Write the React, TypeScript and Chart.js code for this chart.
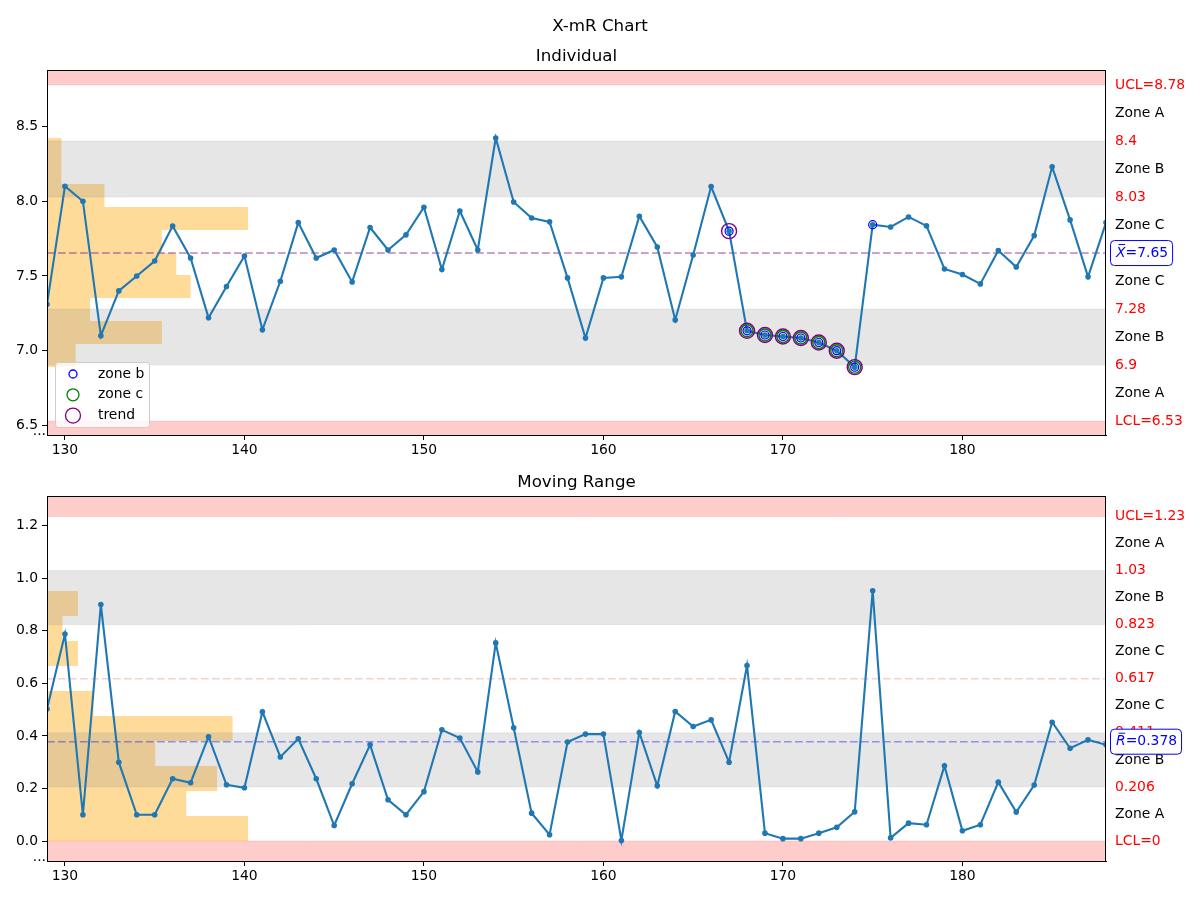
import React, { useEffect, useRef } from "react";
import { Chart, registerables } from "chart.js";

Chart.register(...registerables);

// ---------- data ----------
const X_START = 129;
const xTicks = [130, 140, 150, 160, 170, 180];

const individualValues = [
  7.31, 8.1, 8.0, 7.1, 7.4, 7.5, 7.6, 7.834, 7.62, 7.22,
  7.43, 7.634, 7.14, 7.465, 7.857, 7.62, 7.674, 7.46, 7.824, 7.674,
  7.775, 7.96, 7.543, 7.935, 7.674, 8.423, 7.995, 7.888, 7.862, 7.487,
  7.085, 7.487, 7.494, 7.9, 7.694, 7.206, 7.64, 8.098, 7.8, 7.133,
  7.105, 7.095, 7.085, 7.055, 7.0, 6.89, 7.843, 7.828, 7.895, 7.835,
  7.547, 7.51, 7.447, 7.67, 7.56, 7.77, 8.23, 7.875, 7.494, 7.857,
];

const movingRangeValues = [
  0.502, 0.788, 0.1, 0.9, 0.3, 0.1, 0.1, 0.237, 0.222, 0.397,
  0.214, 0.203, 0.492, 0.32, 0.389, 0.237, 0.059, 0.218, 0.366, 0.157,
  0.1, 0.188, 0.423, 0.392, 0.263, 0.754, 0.431, 0.106, 0.024, 0.377,
  0.407, 0.407, 0.002, 0.413, 0.21, 0.493, 0.436, 0.461, 0.3, 0.668,
  0.03, 0.009, 0.009, 0.03, 0.052, 0.111, 0.952, 0.012, 0.068, 0.062,
  0.286, 0.039, 0.062, 0.224, 0.11, 0.213, 0.452, 0.353, 0.385, 0.366,
];

const indivCenter = 7.6533;
const indivUCL = 8.778;
const indivLCL = 6.529;
const indivYTicks = [6.5, 7.0, 7.5, 8.0, 8.5];
const indivZoneLabels = [
  "UCL=8.78", "Zone A", "8.4", "Zone B", "8.03", "Zone C", "",
  "Zone C", "7.28", "Zone B", "6.9", "Zone A", "LCL=6.53",
];
const indivHistCounts = [2, 8, 3, 10, 9, 8, 14, 4, 1, 1];
const indivHistRange = [6.89, 8.423];

const mrCenter = 0.378;
const mrUCL = 1.235;
const mrLCL = 0;
const mrYTicks = [0, 0.2, 0.4, 0.6, 0.8, 1.0, 1.2];
const mrZoneLabels = [
  "UCL=1.23", "Zone A", "1.03", "Zone B", "0.823", "Zone C", "0.617",
  "Zone C", "0.411", "Zone B", "0.206", "Zone A", "LCL=0",
];
const mrHistCounts = [13, 9, 11, 7, 12, 3, 0, 2, 1, 2];
const mrHistRange = [0.002, 0.952];

const zoneBPoints = [167, 168, 169, 170, 171, 172, 173, 174, 175];
const zoneCPoints = [168, 169, 170, 171, 172, 173, 174];
const trendPoints = [167, 168, 169, 170, 171, 172, 173, 174];

// ---------- style ----------
const FONT = "'DejaVu Sans', sans-serif";
const FS = 13.9;
const TITLE_FS = 16.7;
const HIST_SPAN = 11.2;
const LABEL_X = 1115;
const LINE_BLUE = "#1f77b4";

type Panel = {
  title: string;
  suptitle?: string;
  values: number[];
  ucl: number;
  lcl: number;
  cl: number;
  clColor: string;
  clSymbol: string;
  clText: string;
  midColor?: string;
  yMin: number;
  yMax: number;
  yTicks: number[];
  zoneLabels: string[];
  hist: number[];
  histRange: number[];
  padTop: number;
  axisH: number;
  titleY: number;
  legend?: boolean;
  markers?: boolean;
};

const panels: Panel[] = [
  {
    title: "Individual",
    suptitle: "X-mR Chart",
    values: individualValues,
    ucl: indivUCL,
    lcl: indivLCL,
    cl: indivCenter,
    clColor: "rgba(128,0,128,0.5)",
    clSymbol: "X",
    clText: "=7.65",
    yMin: 6.436,
    yMax: 8.878,
    yTicks: indivYTicks,
    zoneLabels: indivZoneLabels,
    hist: indivHistCounts,
    histRange: indivHistRange,
    padTop: 70,
    axisH: 25,
    titleY: 57,
    legend: true,
    markers: true,
  },
  {
    title: "Moving Range",
    values: movingRangeValues,
    ucl: mrUCL,
    lcl: mrLCL,
    cl: mrCenter,
    clColor: "rgba(0,0,255,0.38)",
    clSymbol: "R",
    clText: "=0.378",
    midColor: "rgba(255,0,0,0.2)",
    yMin: -0.076,
    yMax: 1.313,
    yTicks: mrYTicks,
    zoneLabels: mrZoneLabels,
    hist: mrHistCounts,
    histRange: mrHistRange,
    padTop: 36,
    axisH: 39,
    titleY: 23,
  },
];

function drawCircle(ctx: CanvasRenderingContext2D, x: number, y: number, r: number, color: string, lw: number) {
  ctx.beginPath();
  ctx.arc(x, y, r, 0, Math.PI * 2);
  ctx.strokeStyle = color;
  ctx.lineWidth = lw;
  ctx.stroke();
}

function makePlugin(p: Panel) {
  return {
    id: "xmrZones",
    beforeDatasetsDraw(chart: any) {
      const { ctx, chartArea: a, scales } = chart;
      const xs = scales.x;
      const ys = scales.y;
      const w = a.right - a.left;
      const py = (v: number) => ys.getPixelForValue(v);
      ctx.save();
      ctx.beginPath();
      ctx.rect(a.left, a.top, w, a.bottom - a.top);
      ctx.clip();
      // histogram
      const n = p.hist.length;
      const bh = (p.histRange[1] - p.histRange[0]) / n;
      const maxC = Math.max(...p.hist);
      ctx.fillStyle = "rgba(255,165,0,0.4)";
      for (let i = 0; i < n; i++) {
        if (!p.hist[i]) continue;
        const yb = Math.round(py(p.histRange[0] + i * bh));
        const yt = Math.round(py(p.histRange[0] + (i + 1) * bh));
        const xr = xs.getPixelForValue(xs.min + (p.hist[i] / maxC) * HIST_SPAN);
        ctx.fillRect(a.left, yt, xr - a.left, yb - yt);
      }
      // zones
      const step = (p.ucl - p.lcl) / 6;
      const b = Array.from({ length: 7 }, (_, i) => py(p.ucl - i * step));
      ctx.fillStyle = "rgba(255,0,0,0.2)";
      ctx.fillRect(a.left, a.top, w, b[0] - a.top);
      ctx.fillRect(a.left, b[6], w, a.bottom - b[6]);
      ctx.fillStyle = "rgba(128,128,128,0.2)";
      ctx.fillRect(a.left, b[1], w, b[2] - b[1]);
      ctx.fillRect(a.left, b[4], w, b[5] - b[4]);
      const hl = (yv: number, color: string) => {
        ctx.strokeStyle = color;
        ctx.beginPath();
        ctx.moveTo(a.left, yv);
        ctx.lineTo(a.right, yv);
        ctx.stroke();
      };
      ctx.lineWidth = 1;
      hl(b[0], "rgba(255,0,0,0.12)");
      hl(b[6], "rgba(255,0,0,0.12)");
      [b[1], b[2], b[4], b[5]].forEach((v) => hl(v, "rgba(128,128,128,0.12)"));
      // dashed lines
      ctx.setLineDash([7.7, 3.3]);
      ctx.lineWidth = 1.5;
      if (p.midColor) hl(b[3], p.midColor);
      hl(py(p.cl), p.clColor);
      ctx.setLineDash([]);
      ctx.restore();
    },
    afterDraw(chart: any) {
      const { ctx, chartArea: a, scales } = chart;
      const ys = scales.y;
      ctx.save();
      // frame
      ctx.strokeStyle = "#000";
      ctx.lineWidth = 1;
      ctx.strokeRect(Math.round(a.left) + 0.5, Math.round(a.top) + 0.5, Math.round(a.right - a.left) - 1, Math.round(a.bottom - a.top));
      // titles
      ctx.fillStyle = "#000";
      ctx.textBaseline = "middle";
      ctx.textAlign = "center";
      ctx.font = `${TITLE_FS}px ${FONT}`;
      if (p.suptitle) ctx.fillText(p.suptitle, 600, 27);
      ctx.fillText(p.title, (a.left + a.right) / 2, p.titleY);
      // "..." under the y axis
      ctx.font = `${FS}px ${FONT}`;
      ctx.textAlign = "right";
      ctx.fillText("...", 46, a.bottom - 4);
      // right-side zone labels
      ctx.textAlign = "left";
      const step = (p.ucl - p.lcl) / 12;
      p.zoneLabels.forEach((lab, i) => {
        if (!lab) return;
        ctx.fillStyle = i % 2 === 0 ? "#ff0000" : "#000000";
        ctx.fillText(lab, LABEL_X, ys.getPixelForValue(p.ucl - i * step));
      });
      // center-line boxed label
      const cy = ys.getPixelForValue(p.cl);
      ctx.font = `italic ${FS}px ${FONT}`;
      const wSym = ctx.measureText(p.clSymbol).width;
      ctx.font = `${FS}px ${FONT}`;
      const wTxt = ctx.measureText(p.clText).width;
      const bx = LABEL_X - 4.5;
      const bw = wSym + wTxt + 10;
      ctx.beginPath();
      (ctx as any).roundRect(bx, cy - 12.5, bw, 25, 4);
      ctx.fillStyle = "#ffffff";
      ctx.fill();
      ctx.strokeStyle = "#0000ff";
      ctx.lineWidth = 1;
      ctx.stroke();
      ctx.fillStyle = "#0000ff";
      ctx.font = `italic ${FS}px ${FONT}`;
      ctx.fillText(p.clSymbol, LABEL_X + 1, cy);
      ctx.beginPath();
      ctx.moveTo(LABEL_X + 3.5, cy - 8.5);
      ctx.lineTo(LABEL_X + wSym + 0.5, cy - 8.5);
      ctx.strokeStyle = "#0000ff";
      ctx.lineWidth = 1;
      ctx.stroke();
      ctx.font = `${FS}px ${FONT}`;
      ctx.fillText(p.clText, LABEL_X + 1 + wSym, cy);
      // legend
      if (p.legend) {
        ctx.beginPath();
        (ctx as any).roundRect(55.5, 362.5, 94, 65, 3);
        ctx.fillStyle = "rgba(255,255,255,0.8)";
        ctx.fill();
        ctx.strokeStyle = "#cccccc";
        ctx.lineWidth = 1;
        ctx.stroke();
        const items: [string, string, number][] = [
          ["zone b", "#0000ff", 4],
          ["zone c", "#008000", 6],
          ["trend", "#800080", 7.5],
        ];
        items.forEach(([lab, col, r], i) => {
          const iy = 374 + i * 20.8;
          drawCircle(ctx, 73, iy, r, col, 1.3);
          ctx.fillStyle = "#000";
          ctx.font = `${FS}px ${FONT}`;
          ctx.textAlign = "left";
          ctx.fillText(lab, 98, iy);
        });
      }
      ctx.restore();
    },
  };
}

function markerSet(data: { x: number; y: number }[], color: string, r: number, bw: number, order: number) {
  return {
    data,
    showLine: false,
    pointRadius: r,
    pointBorderColor: color,
    pointBackgroundColor: "rgba(0,0,0,0)",
    pointBorderWidth: bw,
    borderColor: color,
    backgroundColor: "rgba(0,0,0,0)",
    order,
  };
}

function buildChart(canvas: HTMLCanvasElement, p: Panel) {
  const pts = p.values.map((v, i) => ({ x: X_START + i, y: v }));
  const pick = (idx: number[]) => idx.map((k) => ({ x: k, y: p.values[k - X_START] }));
  const datasets: any[] = [
    {
      data: pts,
      borderColor: LINE_BLUE,
      backgroundColor: LINE_BLUE,
      borderWidth: 2.1,
      pointRadius: 2.8,
      pointBorderWidth: 0,
      pointBackgroundColor: LINE_BLUE,
      tension: 0,
      order: 10,
    },
  ];
  if (p.markers) {
    datasets.push(markerSet(pick(zoneBPoints), "#0000ff", 4, 1.2, 2));
    datasets.push(markerSet(pick(zoneCPoints), "#008000", 6, 1.4, 1));
    datasets.push(markerSet(pick(trendPoints), "#800080", 7.5, 1.4, 0));
  }
  return new Chart(canvas, {
    type: "line",
    data: { datasets },
    options: {
      responsive: false,
      animation: false,
      events: [],
      layout: { padding: { left: 0, right: 94, top: p.padTop, bottom: 0 } },
      plugins: { legend: { display: false }, title: { display: false }, tooltip: { enabled: false } },
      scales: {
        x: {
          type: "linear",
          min: X_START,
          max: 188,
          afterBuildTicks: (s: any) => {
            s.ticks = xTicks.map((v) => ({ value: v }));
          },
          afterFit: (s: any) => {
            s.height = p.axisH;
          },
          ticks: {
            color: "#000",
            font: { family: FONT, size: FS },
            padding: 2,
            maxRotation: 0,
            autoSkip: false,
            callback: (v: any) => String(v),
          },
          grid: { display: true, drawOnChartArea: false, drawTicks: true, tickLength: 5, color: "#000" },
          border: { display: true, color: "#000" },
        },
        y: {
          type: "linear",
          min: p.yMin,
          max: p.yMax,
          afterBuildTicks: (s: any) => {
            s.ticks = p.yTicks.map((v) => ({ value: v }));
          },
          afterFit: (s: any) => {
            s.width = 47;
          },
          ticks: {
            color: "#000",
            font: { family: FONT, size: FS },
            padding: 4,
            autoSkip: false,
            callback: (v: any) => Number(v).toFixed(1),
          },
          grid: { display: true, drawOnChartArea: false, drawTicks: true, tickLength: 5, color: "#000" },
          border: { display: true, color: "#000" },
        },
      },
    },
    plugins: [makePlugin(p)],
  } as any);
}

export default function App() {
  const r1 = useRef<HTMLCanvasElement>(null);
  const r2 = useRef<HTMLCanvasElement>(null);
  useEffect(() => {
    const c1 = buildChart(r1.current as HTMLCanvasElement, panels[0]);
    const c2 = buildChart(r2.current as HTMLCanvasElement, panels[1]);
    return () => {
      c1.destroy();
      c2.destroy();
    };
  }, []);
  return (
    <div style={{ position: "absolute", left: 0, top: 0, width: 1200, height: 900, background: "#fff" }}>
      <canvas ref={r1} width={1200} height={460} style={{ position: "absolute", left: 0, top: 0 }} />
      <canvas ref={r2} width={1200} height={440} style={{ position: "absolute", left: 0, top: 460 }} />
    </div>
  );
}
